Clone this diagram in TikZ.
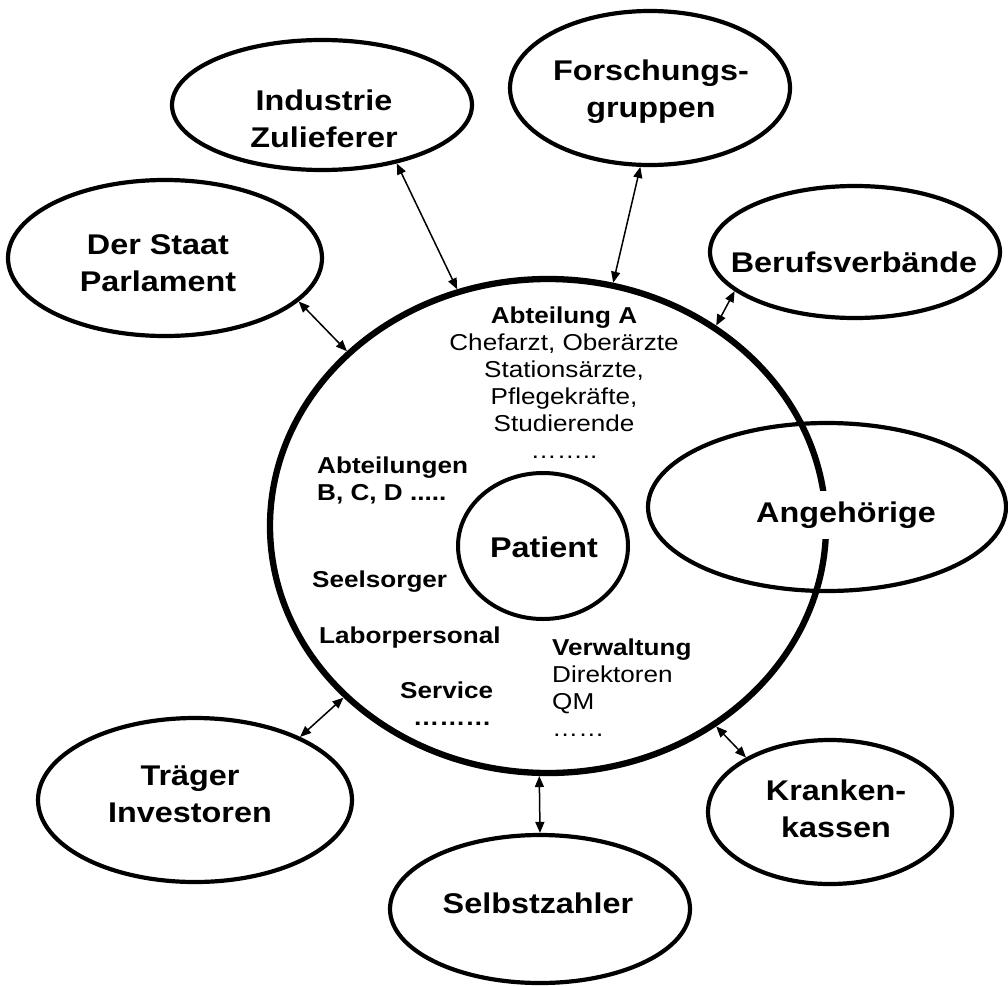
\documentclass[tikz,border=0pt]{standalone}
\usepackage{fontspec}
\setmainfont{Liberation Sans}[FakeStretch=1.135]
\usetikzlibrary{arrows.meta,shapes.geometric}
\begin{document}
\begin{tikzpicture}[x=1pt,y=-1pt,
  bigcirc/.style={draw, ellipse, line width=6.3pt, inner sep=0pt, minimum width=556pt, minimum height=494pt},
  outer/.style={draw, ellipse, line width=4.2pt, inner sep=0pt},
  lab/.style={font=\fontsize{28.5}{37}\selectfont\bfseries, align=center, inner sep=0pt},
  inb/.style={font=\fontsize{23}{27}\selectfont\bfseries, inner sep=0pt},
  inr/.style={font=\fontsize{23}{27}\selectfont, inner sep=0pt},
  conn/.style={{Triangle[length=11pt,width=9pt]}-{Triangle[length=11pt,width=9pt]}, line width=1.5pt},
]
\useasboundingbox (0,0) rectangle (1008,985);

% central hospital
\node[bigcirc] (big) at (548,526) {};

% Angehoerige (overlapping)
\node[lab, fill=white, inner xsep=3pt, inner ysep=11pt] (angt) at (846,515) {Angehörige};
\node[outer, minimum width=358pt, minimum height=168pt] (ang) at (827,507) {};

% outer ellipses
\node[outer, minimum width=300pt, minimum height=130pt] (ind) at (322,105) {};
\node[lab] (indt) at (324,119) {Industrie\\Zulieferer};

\node[outer, minimum width=280pt, minimum height=154pt] (for) at (650,88) {};
\node[lab] (fort) at (651,92) {Forschungs-\\gruppen};

\node[outer, minimum width=314pt, minimum height=156pt] (sta) at (165,258) {};
\node[lab] (stat) at (158,263) {Der Staat\\Parlament};

\node[outer, minimum width=290pt, minimum height=132pt] (ber) at (855,252) {};
\node[lab] (bert) at (854,262) {Berufsverbände};

\node[outer, minimum width=314pt, minimum height=164pt] (tra) at (195,800) {};
\node[lab] (trat) at (190,794) {Träger\\Investoren};

\node[outer, minimum width=244pt, minimum height=144pt] (kra) at (830,812) {};
\node[lab] (krat) at (836,809) {Kranken-\\kassen};

\node[outer, minimum width=300pt, minimum height=148pt] (sel) at (540,909) {};
\node[lab] (selt) at (538,903) {Selbstzahler};

% patient
\node[outer, line width=4pt, minimum width=170pt, minimum height=146pt] (pat) at (543,546) {};
\node[lab] (patt) at (544,547) {Patient};

% inner texts
\node[inr, align=center, anchor=north] (abta) at (564,306.5)
  {\textbf{Abteilung A}\\Chefarzt, Oberärzte\\Stationsärzte,\\Pflegekräfte,\\Studierende\\……..};
\node[inb, align=left, anchor=north west] (abtb) at (317,456.5) {Abteilungen\\B, C, D .....};
\node[inb, anchor=base west] (see) at (312,587) {Seelsorger};
\node[inb, anchor=base west] (lab) at (319,643) {Laborpersonal};
\node[inb, anchor=base west] (ser) at (400,698) {Service};
\node[inb, anchor=base west] (serd) at (413,725) {………};
\node[inr, align=left, anchor=north west] (ver) at (552,638.5)
  {\textbf{Verwaltung}\\Direktoren\\QM\\……};

% connectors
\draw[conn] (ind.-38) -- (big.111.5);
\draw[conn] (for.-97.4) -- (big.75.7);
\draw[conn] (sta.-18.7) -- (big.139.1);
\draw[conn] (ber.198.6) -- (big.50.3);
\draw[conn] (tra.31.7) -- (big.220.2);
\draw[conn] (sel.90) -- (big.268.2);
\draw[conn] (kra.147.3) -- (big.310.9);
\end{tikzpicture}
\end{document}
